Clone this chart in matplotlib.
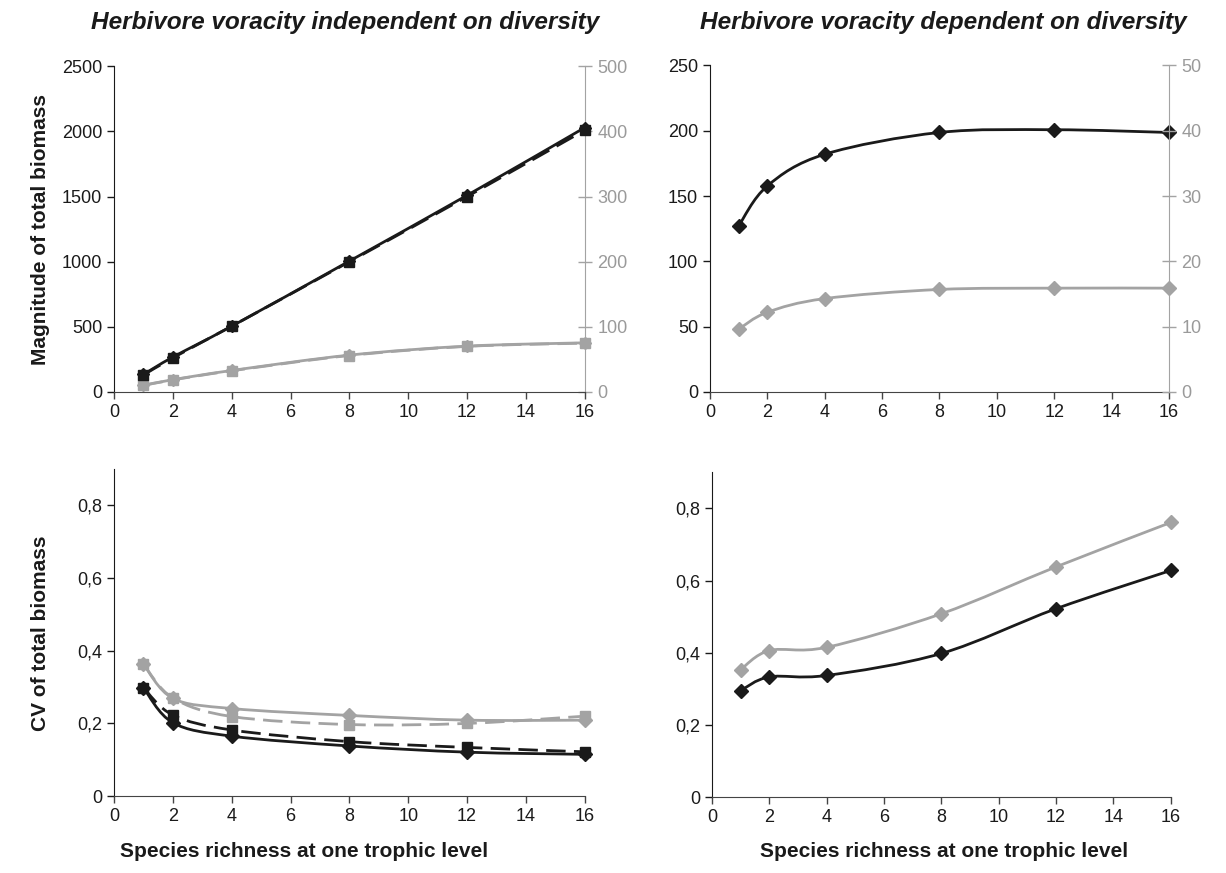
import matplotlib
matplotlib.use("Agg")
import matplotlib.pyplot as plt
from matplotlib.path import Path
from matplotlib.patches import PathPatch
from matplotlib.ticker import FuncFormatter

plt.rcParams['font.family'] = ['Liberation Sans', 'DejaVu Sans']

# ---- data ----
richness = [1, 2, 4, 8, 12, 16]

# top-left: magnitude, voracity independent on diversity
tl_black_solid = [135, 268, 505, 1005, 1510, 2030]     # left axis
tl_black_dashed = [130, 262, 505, 1000, 1500, 2010]    # left axis
tl_gray_solid = [10.2, 18.9, 33, 56.6, 70.4, 75.5]     # right axis
tl_gray_dashed = [10.0, 18.5, 32.5, 56.0, 70.0, 75.0]  # right axis

# top-right: magnitude, voracity dependent on diversity
tr_black = [127, 157.7, 182, 198.7, 200.8, 198.7]      # left axis
tr_gray = [9.6, 12.2, 14.3, 15.7, 15.9, 15.9]          # right axis

# bottom-left: CV, independent
bl_gray_solid = [0.363, 0.269, 0.241, 0.222, 0.209, 0.209]
bl_gray_dashed = [0.363, 0.270, 0.219, 0.197, 0.200, 0.220]
bl_black_solid = [0.298, 0.202, 0.165, 0.138, 0.121, 0.115]
bl_black_dashed = [0.298, 0.223, 0.182, 0.150, 0.134, 0.122]

# bottom-right: CV, dependent
br_gray = [0.353, 0.406, 0.415, 0.508, 0.638, 0.761]
br_black = [0.295, 0.333, 0.337, 0.398, 0.522, 0.628]

x_ticks = [0, 2, 4, 6, 8, 10, 12, 14, 16]
tl_left_ticks = [0, 500, 1000, 1500, 2000, 2500]
tl_right_ticks = [0, 100, 200, 300, 400, 500]
tr_left_ticks = [0, 50, 100, 150, 200, 250]
tr_right_ticks = [0, 10, 20, 30, 40, 50]
cv_ticks = [0, 0.2, 0.4, 0.6, 0.8]

title_left = "Herbivore voracity independent on diversity"
title_right = "Herbivore voracity dependent on diversity"
ylabel_top = "Magnitude of total biomass"
ylabel_bottom = "CV of total biomass"
xlabel = "Species richness at one trophic level"

BLACK = '#1a1a1a'
GRAY = '#a3a3a3'
AXC = '#444444'
GRAYTXT = '#9a9a9a'
TFS = 13


def smooth_line(ax, xs, ys, color, dashed=False, lw=2.0, zorder=3):
    n = len(xs)
    pts = list(zip(xs, ys))
    verts = [pts[0]]
    codes = [Path.MOVETO]
    for i in range(n - 1):
        p0 = pts[i - 1] if i > 0 else pts[i]
        p1 = pts[i]
        p2 = pts[i + 1]
        p3 = pts[i + 2] if i + 2 < n else pts[i + 1]
        c1 = (p1[0] + (p2[0] - p0[0]) / 6.0, p1[1] + (p2[1] - p0[1]) / 6.0)
        c2 = (p2[0] - (p3[0] - p1[0]) / 6.0, p2[1] - (p3[1] - p1[1]) / 6.0)
        verts += [c1, c2, p2]
        codes += [Path.CURVE4] * 3
    ls = (0, (7, 3)) if dashed else '-'
    patch = PathPatch(Path(verts, codes), facecolor='none', edgecolor=color,
                      lw=lw, linestyle=ls, zorder=zorder, capstyle='butt')
    ax.add_patch(patch)


def series(ax, xs, ys, color, marker, dashed=False, ms=7):
    smooth_line(ax, xs, ys, color, dashed=dashed)
    ax.plot(xs, ys, linestyle='none', marker=marker, color=color,
            markersize=ms, zorder=4, clip_on=False)


def style_main(ax, yticks, ylim, fmt=None):
    ax.set_xlim(0, 16)
    ax.set_ylim(*ylim)
    ax.set_xticks(x_ticks)
    ax.set_yticks(yticks)
    ax.spines['top'].set_visible(False)
    ax.spines['right'].set_visible(False)
    ax.spines['left'].set_color(BLACK)
    ax.spines['bottom'].set_color(AXC)
    ax.tick_params(axis='both', direction='out', length=5, width=1,
                   labelsize=TFS, colors=BLACK)
    ax.tick_params(axis='x', color=AXC)
    if fmt is not None:
        ax.yaxis.set_major_formatter(FuncFormatter(fmt))


def style_twin(ax2, yticks, ylim):
    ax2.set_ylim(*ylim)
    ax2.set_yticks(yticks)
    for s in ['top', 'left', 'bottom']:
        ax2.spines[s].set_visible(False)
    ax2.spines['right'].set_color(GRAY)
    ax2.tick_params(axis='y', direction='inout', length=10, width=1,
                    labelsize=TFS, colors=GRAYTXT, color=GRAY, pad=4)


def comma_fmt(v, pos):
    if abs(v) < 1e-9:
        return "0"
    return ("%.1f" % v).replace('.', ',')


fig = plt.figure(figsize=(12.26, 8.73), dpi=100)

ax_tl = fig.add_axes([0.093, 0.551, 0.384, 0.373])
ax_tr = fig.add_axes([0.579, 0.551, 0.3745, 0.374])
ax_bl = fig.add_axes([0.093, 0.088, 0.384, 0.375])
ax_br = fig.add_axes([0.5807, 0.087, 0.3743, 0.372])

# top-left
style_main(ax_tl, tl_left_ticks, (0, 2500))
ax_tl2 = ax_tl.twinx()
style_twin(ax_tl2, tl_right_ticks, (0, 500))
series(ax_tl2, richness, tl_gray_dashed, GRAY, 's', dashed=True)
series(ax_tl2, richness, tl_gray_solid, GRAY, 'D', ms=6)
series(ax_tl, richness, tl_black_dashed, BLACK, 's', dashed=True)
series(ax_tl, richness, tl_black_solid, BLACK, 'D', ms=6)
ax_tl.set_zorder(ax_tl2.get_zorder() + 1)
ax_tl.patch.set_visible(False)

# top-right
style_main(ax_tr, tr_left_ticks, (0, 250))
ax_tr2 = ax_tr.twinx()
style_twin(ax_tr2, tr_right_ticks, (0, 50))
series(ax_tr2, richness, tr_gray, GRAY, 'D')
series(ax_tr, richness, tr_black, BLACK, 'D')

# bottom-left
style_main(ax_bl, cv_ticks, (0, 0.9), comma_fmt)
series(ax_bl, richness, bl_gray_dashed, GRAY, 's', dashed=True)
series(ax_bl, richness, bl_gray_solid, GRAY, 'D')
series(ax_bl, richness, bl_black_dashed, BLACK, 's', dashed=True)
series(ax_bl, richness, bl_black_solid, BLACK, 'D')

# bottom-right
style_main(ax_br, cv_ticks, (0, 0.9), comma_fmt)
series(ax_br, richness, br_gray, GRAY, 'D')
series(ax_br, richness, br_black, BLACK, 'D')

# texts
fig.text(0.2814, 0.9668, title_left, fontsize=17.6, fontweight='bold',
         fontstyle='italic', ha='center', va='baseline', color=BLACK)
fig.text(0.7696, 0.9668, title_right, fontsize=17.6, fontweight='bold',
         fontstyle='italic', ha='center', va='baseline', color=BLACK)
fig.text(0.033, 0.737, ylabel_top, fontsize=15, fontweight='bold',
         rotation=90, ha='center', va='center', color=BLACK)
fig.text(0.033, 0.275, ylabel_bottom, fontsize=15, fontweight='bold',
         rotation=90, ha='center', va='center', color=BLACK)
fig.text(0.248, 0.025, xlabel, fontsize=15, fontweight='bold',
         ha='center', va='center', color=BLACK)
fig.text(0.77, 0.025, xlabel, fontsize=15, fontweight='bold',
         ha='center', va='center', color=BLACK)

fig.savefig('out.png', dpi=100)
